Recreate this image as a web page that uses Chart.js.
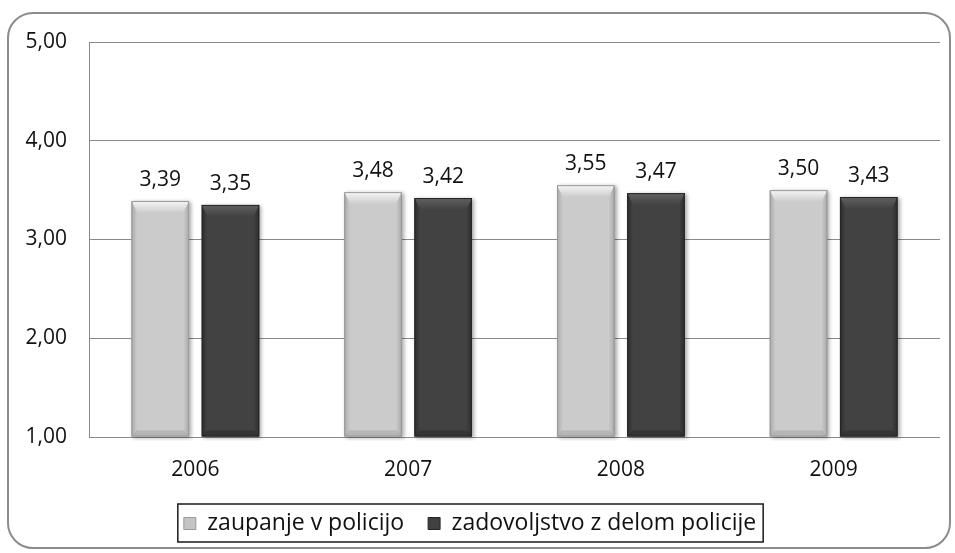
<!DOCTYPE html>
<html lang="sl">
<head>
  <meta charset="UTF-8">
  <title>Zaupanje v policijo</title>
  <script src="https://cdn.jsdelivr.net/npm/chart.js"></script>
  <style>
    body { margin: 0; background: #ffffff; }
    #frame {
      position: absolute; left: 7px; top: 12px; width: 940px; height: 533px;
      border: 2px solid #8c8c8c; border-radius: 26px;
    }
    #wrap { position: absolute; left: 0; top: 0; width: 955px; height: 553px; }
  </style>
</head>
<body>
  <div id="frame"></div>
  <div id="wrap"><canvas id="chart"></canvas></div>

  <script>
    const years = ['2006', '2007', '2008', '2009'];
    const zaupanje = [3.39, 3.48, 3.55, 3.50];
    const zadovoljstvo = [3.35, 3.42, 3.47, 3.43];
    const seriesNames = ['zaupanje v policijo', 'zadovoljstvo z delom policije'];

    const FONT = '"Open Sans", sans-serif';
    const comma = v => v.toFixed(2).replace('.', ',');

    // bar look: [edge, main, cap highlight, border]
    const looks = [
      ['#a9a9a9', '#cbcbcb', '#f6f6f6', '#9a9a9a'],
      ['#2c2c2c', '#424242', '#606060', '#262626']
    ];

    // bevelled bars drawn over the library's bar elements
    const bevelBars = {
      id: 'bevelBars',
      afterDatasetsDraw(chart) {
        const ctx = chart.ctx;
        const a = chart.chartArea;
        ctx.save();
        ctx.beginPath();
        ctx.rect(a.left, a.top, a.right - a.left, a.bottom - a.top + 4);
        ctx.clip();
        chart.data.datasets.forEach((ds, i) => {
          const [edge, main, hi, border] = looks[i];
          chart.getDatasetMeta(i).data.forEach(bar => {
            const { x, y, base, width } = bar.getProps(['x', 'y', 'base', 'width'], true);
            const l = x - width / 2, r = x + width / 2;
            ctx.save();
            ctx.shadowColor = 'rgba(0,0,0,0.35)';
            ctx.shadowBlur = 4;
            ctx.shadowOffsetX = 2;
            ctx.shadowOffsetY = 1;
            const g = ctx.createLinearGradient(l, 0, r, 0);
            g.addColorStop(0, edge);
            g.addColorStop(0.1, main);
            g.addColorStop(0.9, main);
            g.addColorStop(1, edge);
            ctx.fillStyle = g;
            ctx.fillRect(l, y, width, base - y);
            ctx.restore();

            ctx.save();
            // top cap
            const cg = ctx.createLinearGradient(0, y, 0, y + 12);
            cg.addColorStop(0, hi);
            cg.addColorStop(1, main);
            ctx.fillStyle = cg;
            ctx.beginPath();
            ctx.moveTo(l, y);
            ctx.lineTo(r, y);
            ctx.lineTo(r - 6, y + 12);
            ctx.lineTo(l + 6, y + 12);
            ctx.closePath();
            ctx.fill();
            // bottom bevel
            ctx.fillStyle = edge;
            ctx.globalAlpha = 0.6;
            ctx.beginPath();
            ctx.moveTo(l, base);
            ctx.lineTo(r, base);
            ctx.lineTo(r - 5, base - 6);
            ctx.lineTo(l + 5, base - 6);
            ctx.closePath();
            ctx.fill();
            ctx.globalAlpha = 1;
            ctx.strokeStyle = border;
            ctx.lineWidth = 1;
            ctx.strokeRect(l + 0.5, y + 0.5, width - 1, base - y - 1);
            ctx.restore();
          });
        });
        ctx.restore();
      }
    };

    // value labels above bars
    const valueLabels = {
      id: 'valueLabels',
      afterDatasetsDraw(chart) {
        const ctx = chart.ctx;
        ctx.save();
        ctx.font = '21px ' + FONT;
        ctx.fillStyle = '#111';
        ctx.textAlign = 'center';
        ctx.textBaseline = 'alphabetic';
        chart.data.datasets.forEach((ds, i) => {
          chart.getDatasetMeta(i).data.forEach((bar, j) => {
            ctx.fillText(comma(ds.data[j]), bar.x, bar.y - 15);
          });
        });
        ctx.restore();
      }
    };

    // box around the legend
    const legendBox = {
      id: 'legendBox',
      afterDraw(chart) {
        const hb = chart.legend.legendHitBoxes;
        if (!hb || !hb.length) return;
        const l = Math.min(...hb.map(h => h.left)) - 6;
        const r = Math.max(...hb.map(h => h.left + h.width)) + 7;
        const t = Math.min(...hb.map(h => h.top)) - 8;
        const b = Math.max(...hb.map(h => h.top + h.height)) + 7;
        const ctx = chart.ctx;
        ctx.save();
        ctx.strokeStyle = '#1a1a1a';
        ctx.lineWidth = 1.5;
        ctx.strokeRect(l, t, r - l, b - t);
        ctx.restore();
      }
    };

    new Chart(document.getElementById('chart'), {
      type: 'bar',
      data: {
        labels: years,
        datasets: [
          { label: seriesNames[0], data: zaupanje, backgroundColor: '#c4c4c4', borderColor: '#9a9a9a', borderWidth: 1 },
          { label: seriesNames[1], data: zadovoljstvo, backgroundColor: '#404040', borderColor: '#262626', borderWidth: 1 }
        ]
      },
      options: {
        responsive: true,
        maintainAspectRatio: false,
        animation: false,
        datasets: { bar: { categoryPercentage: 0.66, barPercentage: 0.82, base: 1 } },
        layout: { padding: { left: 0, right: 15, top: 42, bottom: 8 } },
        plugins: {
          legend: {
            position: 'bottom',
            labels: {
              font: { family: FONT, size: 23 },
              color: '#111',
              boxWidth: 12,
              boxHeight: 12,
              padding: 24
            }
          },
          tooltip: { enabled: false }
        },
        scales: {
          x: {
            grid: { display: false },
            border: { display: false },
            ticks: { font: { family: FONT, size: 21 }, color: '#111', padding: 12 },
            afterFit: s => { s.height = 51; }
          },
          y: {
            min: 1,
            max: 5,
            ticks: {
              stepSize: 1,
              font: { family: FONT, size: 21 },
              color: '#111',
              padding: 22,
              callback: v => comma(v)
            },
            grid: { color: '#8a8a8a', drawTicks: false },
            border: { display: true, color: '#8a8a8a' },
            afterFit: s => { s.width = 89; }
          }
        }
      },
      plugins: [bevelBars, valueLabels, legendBox]
    });
  </script>
</body>
</html>
